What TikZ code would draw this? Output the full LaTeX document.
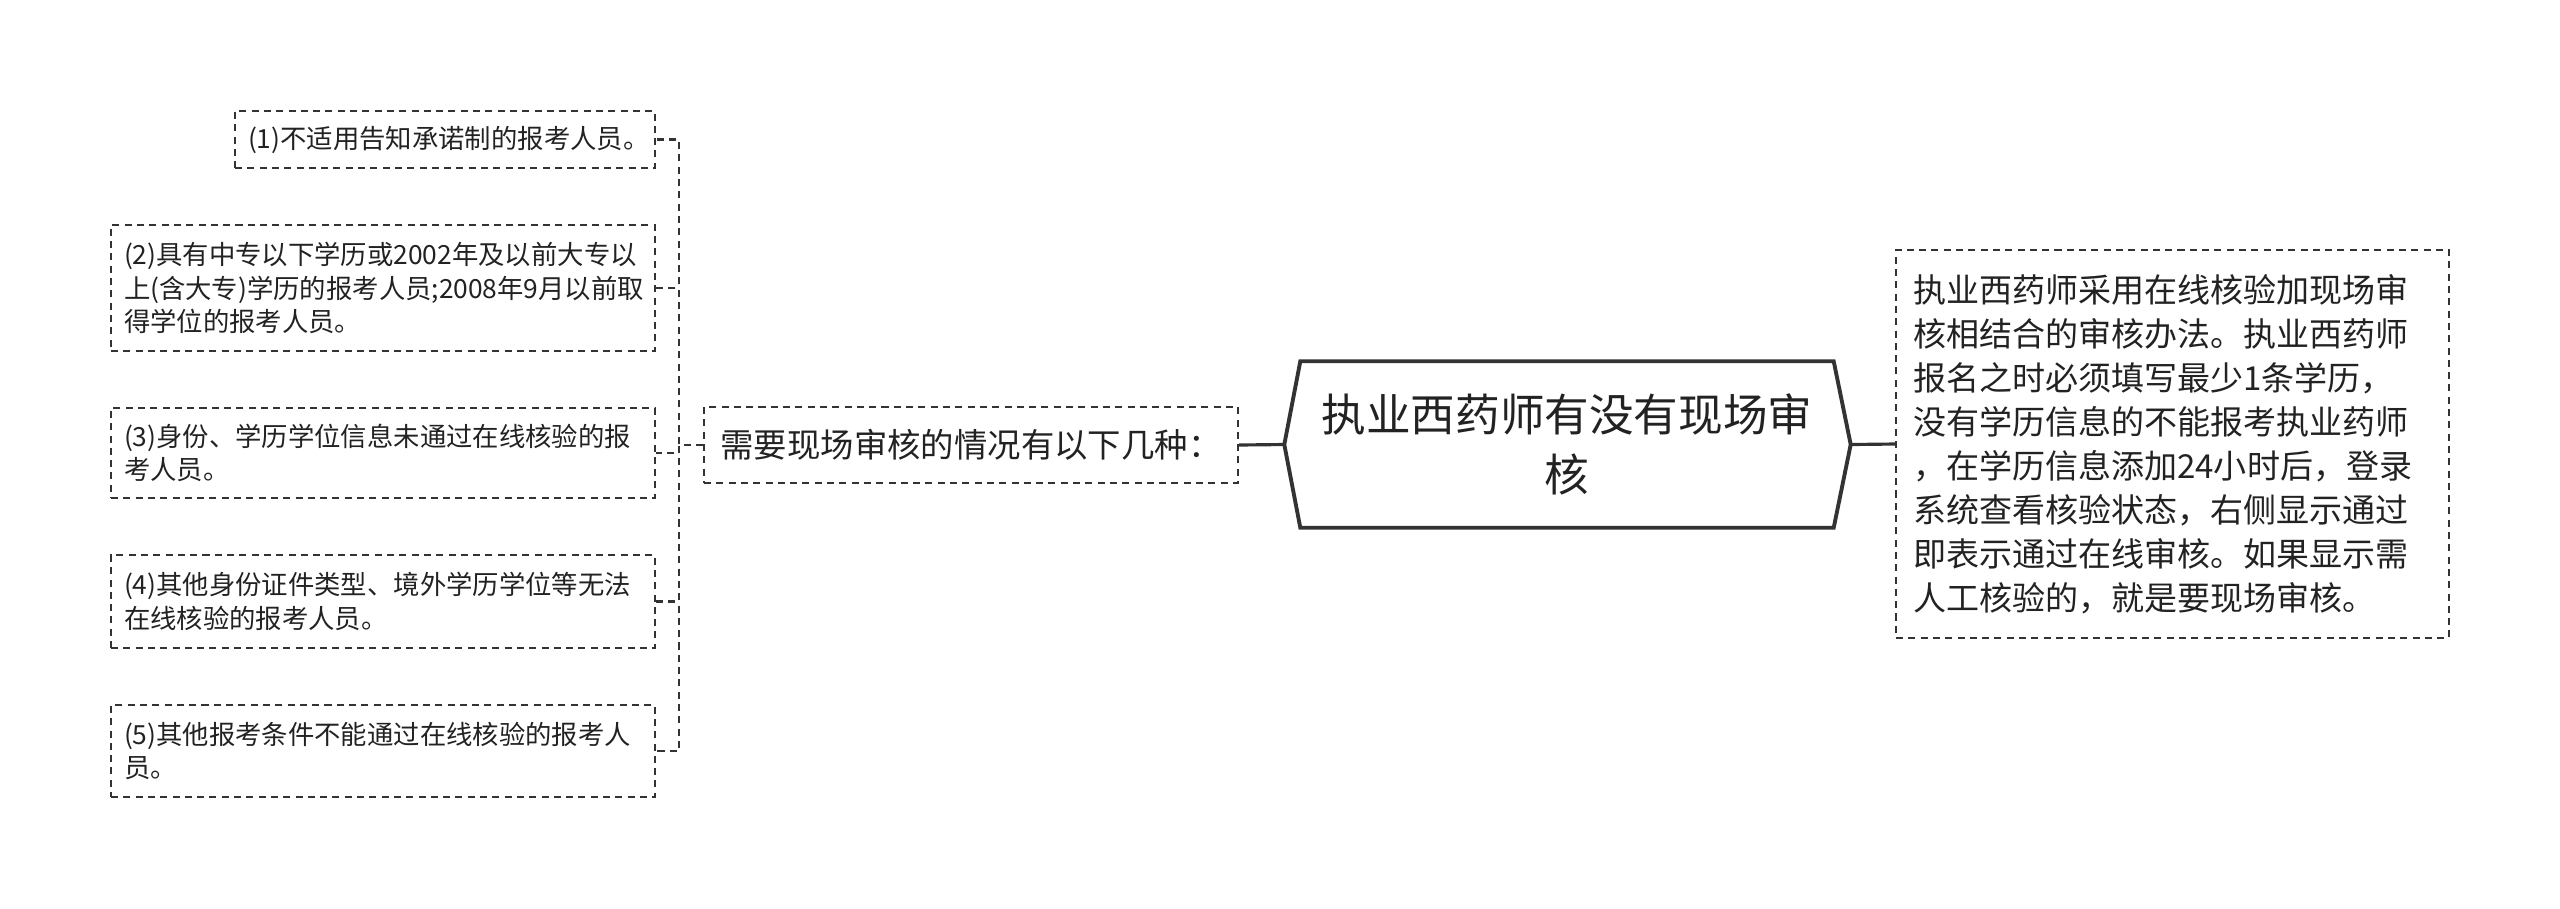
\documentclass[tikz,border=0pt]{standalone}
\usepackage{fontspec}
\setmainfont{Noto Sans CJK SC}
\usepackage{tikz}
\definecolor{line-color}{RGB}{51,51,51}
\definecolor{text-color}{RGB}{34,34,34}

\begin{document}
\begin{tikzpicture}[
    leaf/.style={draw=line-color, line width=0.6pt, dash pattern=on 2pt off 1.5pt,
        inner xsep=0.13cm, inner ysep=0pt, text width=5.18cm, align=left,
        text=text-color, font=\fontsize{7.5}{9.6}\selectfont},
    branch/.style={draw=line-color, line width=0.6pt, dash pattern=on 2pt off 1.5pt,
        inner xsep=0.12cm, inner ysep=0pt, minimum width=5.34cm, minimum height=0.76cm,
        text=text-color, font=\fontsize{9.5}{12}\selectfont},
    link/.style={line-color, line width=0.6pt, dash pattern=on 2pt off 1.5pt},
    stem/.style={line-color, line width=0.9pt}
]
    \useasboundingbox (0,0) rectangle (25.6,-9.08);

    \node[leaf, text width=3.94cm, minimum height=0.57cm] (leaf1) at (4.45,-1.395)
        {(1)不适用告知承诺制的报考人员。};
    \node[leaf, minimum height=1.26cm] (leaf2) at (3.83,-2.88)
        {(2)具有中专以下学历或2002年及以前大专以\\上(含大专)学历的报考人员;2008年9月以前取\\得学位的报考人员。};
    \node[leaf, minimum height=0.90cm] (leaf3) at (3.83,-4.53)
        {(3)身份、学历学位信息未通过在线核验的报\\考人员。};
    \node[leaf, minimum height=0.93cm] (leaf4) at (3.83,-6.015)
        {(4)其他身份证件类型、境外学历学位等无法\\在线核验的报考人员。};
    \node[leaf, minimum height=0.92cm] (leaf5) at (3.83,-7.51)
        {(5)其他报考条件不能通过在线核验的报考人\\员。};

    \node[branch] (cases) at (9.71,-4.45) {需要现场审核的情况有以下几种：};

    \node[minimum width=5.32cm, minimum height=1.65cm, align=center, text=text-color,
        font=\fontsize{12.7}{17}\selectfont] (root) at (15.67,-4.445)
        {执业西药师有没有现场审\\核};
    \draw[line-color, line width=1.1pt, line join=miter]
        (root.north west) -- (root.north east) -- ([xshift=0.17cm]root.east)
        -- (root.south east) -- (root.south west) -- ([xshift=-0.16cm]root.west) -- cycle;
    \coordinate (rootL) at ([xshift=-0.16cm]root.west);
    \coordinate (rootR) at ([xshift=0.17cm]root.east);

    \node[draw=line-color, line width=0.6pt, dash pattern=on 2pt off 1.5pt,
        inner xsep=0.17cm, inner ysep=0pt, text width=5.19cm, minimum height=3.88cm,
        align=left, text=text-color, font=\fontsize{9.4}{12.5}\selectfont] (answer) at (21.725,-4.44)
        {执业西药师采用在线核验加现场审\\核相结合的审核办法。执业西药师\\报名之时必须填写最少1条学历，\\没有学历信息的不能报考执业药师\\，在学历信息添加24小时后，登录\\系统查看核验状态，右侧显示通过\\即表示通过在线审核。如果显示需\\人工核验的，就是要现场审核。};

    \draw[stem] (rootL) -- (cases.east);
    \draw[stem] (rootR) -- (answer.west);

    \coordinate (bus) at (6.79,-4.45);
    \foreach \i in {1,...,5}
        \draw[link] (cases.west) -- (bus) |- (leaf\i.east);
\end{tikzpicture}
\end{document}
